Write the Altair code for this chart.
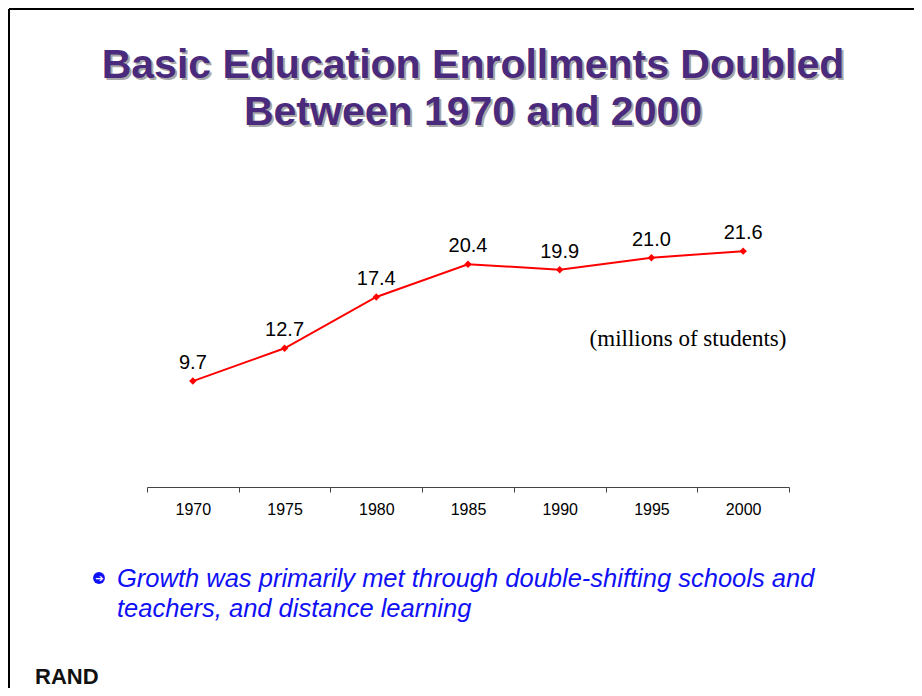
import altair as alt
import pandas as pd

years = ["1970", "1975", "1980", "1985", "1990", "1995", "2000"]
enrollment = [9.7, 12.7, 17.4, 20.4, 19.9, 21.0, 21.6]
value_labels = ["9.7", "12.7", "17.4", "20.4", "19.9", "21.0", "21.6"]
title_lines = ["Basic Education Enrollments Doubled", "Between 1970 and 2000"]
unit_note = "(millions of students)"
bullet_lines = ["Growth was primarily met through double-shifting schools and",
                "teachers, and distance learning"]
bullet_arrow = "\u2794"
logo = "RAND"

df = pd.DataFrame({"year": years, "value": enrollment, "label": value_labels})

SANS = "Liberation Sans"
RED = "#ff0000"
PURPLE = "#4a2a7c"
BLUE = "#1010f4"

xenc = alt.X("year:O", sort=None, title=None,
             scale=alt.Scale(type="band", paddingInner=0, paddingOuter=0),
             axis=alt.Axis(tickBand="extent", labelAngle=0, labelFont=SANS,
                           labelFontSize=16, labelColor="#000000",
                           domainColor="#444444", tickColor="#444444",
                           tickSize=5, labelPadding=9, grid=False))
yenc = alt.Y("value:Q", scale=alt.Scale(domain=[0, 25]), axis=None)

base = alt.Chart(df)
line = base.mark_line(color=RED, strokeWidth=2).encode(x=xenc, y=yenc)
pts = base.mark_point(shape="diamond", filled=True, size=55, color=RED, opacity=1).encode(x=xenc, y=yenc)
lbl = base.mark_text(dy=-18, fontSize=20, font=SANS, color="#000000", baseline="middle").encode(
    x=xenc, y=yenc, text="label:N")


def txt(s, x, y, **kw):
    d = pd.DataFrame({"t": [s]})
    return alt.Chart(d).mark_text(**kw).encode(x=alt.value(x), y=alt.value(y), text="t:N")


layers = [line, pts, lbl]

# title with shadow
for ln, yb in zip(title_lines, [-136, -89]):
    layers.append(txt(ln, 328, yb + 2, font=SANS, fontSize=41, fontWeight="bold",
                      color="#a8a8a8", align="center", baseline="alphabetic"))
    layers.append(txt(ln, 326, yb, font=SANS, fontSize=41, fontWeight="bold",
                      color=PURPLE, align="center", baseline="alphabetic"))

layers.append(txt(unit_note, 541, 125, font="Liberation Serif", fontSize=23,
                  color="#000000", align="center", baseline="middle"))

# bullet: blue disc with white arrow
dot = pd.DataFrame({"k": [0]})
layers.append(alt.Chart(dot).mark_point(shape="circle", filled=True, size=140,
                                        color=BLUE, opacity=1).encode(
    x=alt.value(-48), y=alt.value(364)))
layers.append(txt(bullet_arrow, -47.5, 364.5, font="DejaVu Sans", fontSize=10, fontWeight="bold",
                  color="#ffffff", align="center", baseline="middle"))

for ln, yb in zip(bullet_lines, [373, 403]):
    layers.append(txt(ln, -30, yb, font=SANS, fontSize=25.5, fontStyle="italic",
                      color=BLUE, align="left", baseline="alphabetic"))
layers.append(txt(logo, -112, 470, font=SANS, fontSize=22, fontWeight="bold",
                  color="#111111", align="left", baseline="alphabetic"))

# slide border
frame = pd.DataFrame({"k": [0]})
top_border = alt.Chart(frame).mark_rule(color="#000000", strokeWidth=2).encode(
    x=alt.value(-138), x2=alt.value(767), y=alt.value(-205))
left_border = alt.Chart(frame).mark_rule(color="#000000", strokeWidth=2).encode(
    x=alt.value(-138), y=alt.value(-205), y2=alt.value(474))
layers += [top_border, left_border]

chart = alt.layer(*layers).properties(
    width=642, height=273,
    padding={"left": 139, "top": 206, "right": 125, "bottom": 201},
    autosize=alt.AutoSizeParams(type="none"),
    background="#ffffff",
).configure_view(strokeWidth=0, stroke="transparent")

chart.save("out.html", embed_options={"renderer": "svg", "actions": False})
